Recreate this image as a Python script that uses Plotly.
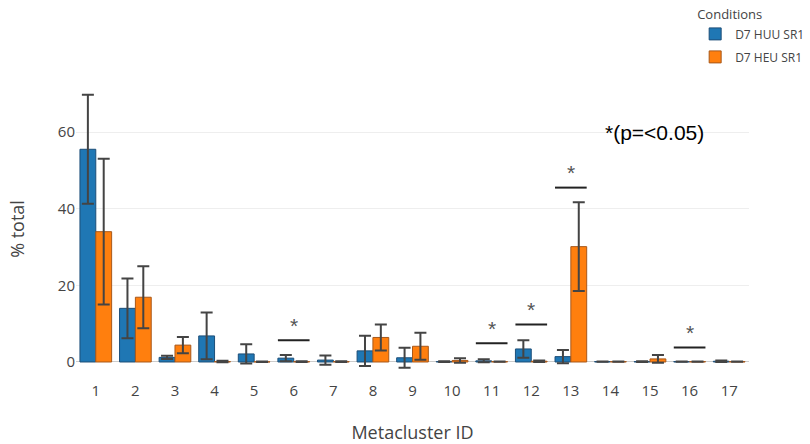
import plotly.graph_objects as go

categories = [str(i) for i in range(1, 18)]
huu_vals = [55.5, 14.0, 1.2, 6.8, 2.1, 1.0, 0.5, 2.9, 1.1, 0.1, 0.3, 3.4, 1.4, 0.1, 0.1, 0.1, 0.2]
huu_err = [14.2, 7.8, 0.4, 6.1, 2.5, 0.8, 1.2, 3.95, 2.6, 0.1, 0.4, 2.3, 1.7, 0.05, 0.1, 0.05, 0.2]
heu_vals = [34.0, 16.9, 4.4, 0.1, 0.05, 0.1, 0.1, 6.4, 4.1, 0.4, 0.1, 0.2, 30.1, 0.1, 0.8, 0.1, 0.1]
heu_err = [19.0, 8.1, 2.1, 0.2, 0.05, 0.1, 0.1, 3.4, 3.5, 0.6, 0.05, 0.2, 11.6, 0.05, 1.0, 0.05, 0.05]
series_names = ["D7 HUU SR1", "D7 HEU SR1"]
sig_clusters = ["6", "11", "12", "13", "16"]
sig_heights = [5.7, 4.9, 9.8, 45.5, 3.8]
note_text = "*(p=<0.05)"

fig = go.Figure()
for name, vals, errs, color, lc in [
    (series_names[0], huu_vals, huu_err, "#1f77b4", "#1d4e78"),
    (series_names[1], heu_vals, heu_err, "#ff7f0e", "#a8581a"),
]:
    fig.add_trace(go.Bar(
        x=categories, y=vals, name=name, legendgroup=name,
        marker=dict(color=color, line=dict(color=lc, width=1)),
        error_y=dict(type="data", array=errs, visible=True, color="#444444",
                     thickness=2, width=6),
    ))

for c, h in zip(sig_clusters, sig_heights):
    idx = categories.index(c)
    fig.add_shape(type="line", xref="x", yref="y",
                  x0=idx - 0.4, x1=idx + 0.4, y0=h, y1=h,
                  line=dict(color="#222222", width=2))
    fig.add_annotation(x=idx, y=h, xref="x", yref="y", text="*", showarrow=False,
                       yshift=15, yanchor="middle",
                       font=dict(family="Liberation Sans", size=21, color="#555555"))

fig.add_annotation(x=0.86, y=0.821, xref="paper", yref="paper", text=note_text,
                   showarrow=False, xanchor="center", yanchor="middle",
                   font=dict(family="Liberation Sans", size=21, color="#000000"))

fig.update_layout(
    width=810, height=444,
    margin=dict(l=76, r=61, t=78, b=64, autoexpand=False),
    paper_bgcolor="white", plot_bgcolor="white",
    font=dict(family="Open Sans", color="#444444"),
    barmode="group", bargap=0.2, bargroupgap=0,
    legend=dict(title=dict(text="Conditions", font=dict(size=13)),
                x=0.92, y=1.25, xanchor="left", yanchor="top",
                font=dict(size=12), tracegroupgap=4, traceorder="grouped"),
    xaxis=dict(title=dict(text="Metacluster ID", font=dict(size=18), standoff=30),
               tickfont=dict(size=15), showgrid=False, showline=False, ticks=""),
    yaxis=dict(title=dict(text="% total", font=dict(size=18), standoff=28),
               tickfont=dict(size=15), range=[-4.7, 74.1],
               tickvals=[0, 20, 40, 60], showgrid=True, gridcolor="#eeeeee",
               zeroline=True, zerolinecolor="#cccccc", zerolinewidth=1),
)

fig.write_html("out.html")
